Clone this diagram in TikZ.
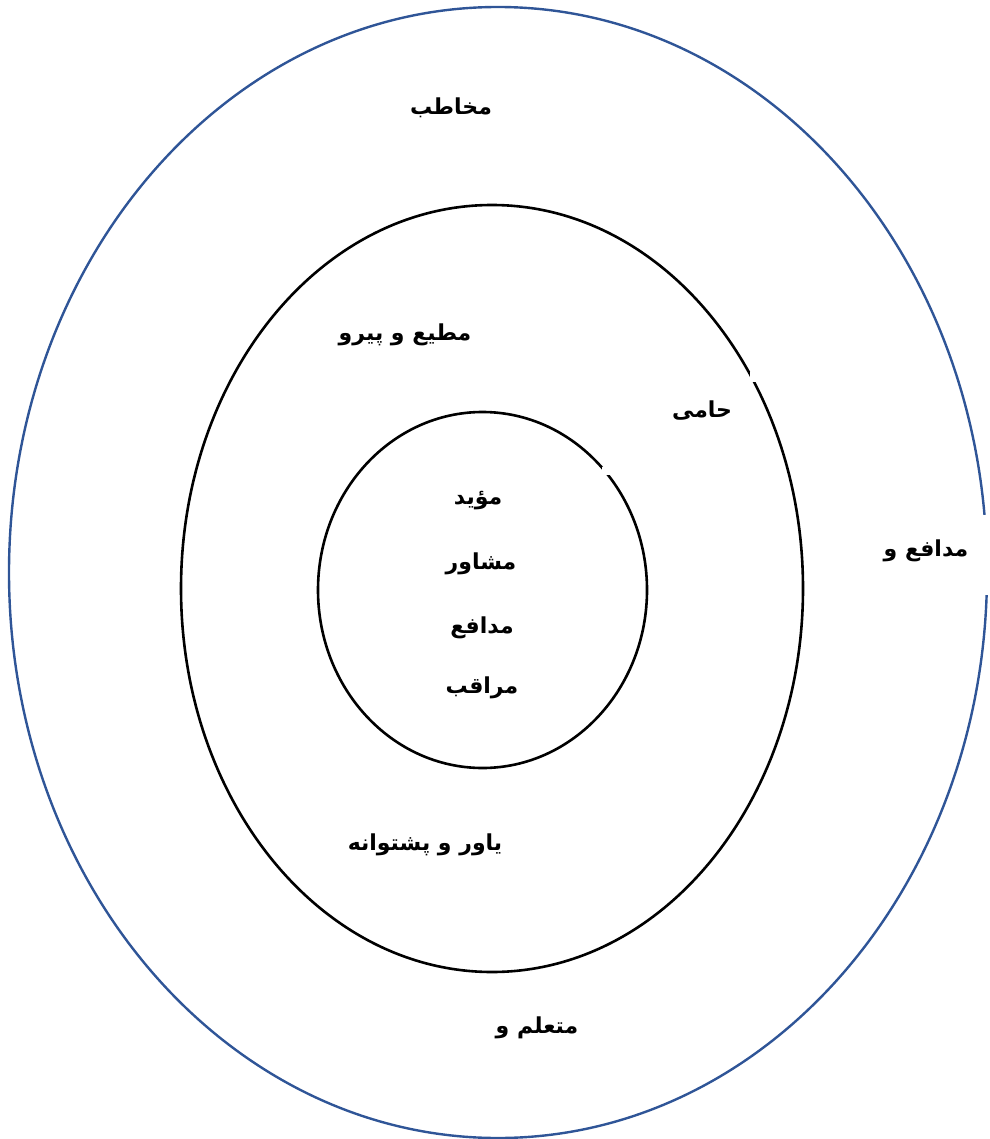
\documentclass[tikz,border=0pt]{standalone}
\usepackage{fontspec}
\TeXXeTstate=1
\newfontfamily\arabicfont[Script=Arabic]{DejaVu Sans}
\definecolor{outerblue}{HTML}{2F5597}
\begin{document}
\begin{tikzpicture}[x=1pt,y=-1pt,
  lbl/.style={font=\arabicfont\bfseries\fontsize{22}{26}\selectfont, inner sep=0pt},
  ring/.style={line width=2.6pt, draw=black},
  outerring/.style={line width=2.4pt, draw=outerblue}]
\useasboundingbox (0,0) rectangle (989,1139);
\clip (0,0) rectangle (989,1139);
% rings
\draw[outerring] (498,572.5) ellipse [x radius=489, y radius=565.5];
\draw[ring] (492,588.5) ellipse [x radius=311, y radius=383.5];
\draw[ring] (482.5,590) ellipse [x radius=164.5, y radius=178];
% small breaks in the rings
\fill[white] (975,515) rectangle (995,595);
\fill[white] (750,372) rectangle (760,382);
\fill[white] (602,467) rectangle (610,475);
% labels
\node[lbl] (mokhatab) at (451,108) {\beginR مخاطب\endR};
\node[lbl] (moti) at (405,335) {\beginR مطیع و پیرو\endR};
\node[lbl] (hami) at (702,411) {\beginR حامی\endR};
\node[lbl] (moayyed) at (478,501) {\beginR مؤید\endR};
\node[lbl] (moshaver) at (481,564) {\beginR مشاور\endR};
\node[lbl] (modafe) at (482,628) {\beginR مدافع\endR};
\node[lbl] (moraqeb) at (482,688) {\beginR مراقب\endR};
\node[lbl] (modafew) at (926,551) {\beginR مدافع و\endR};
\node[lbl] (yavar) at (425,845) {\beginR یاور و پشتوانه\endR};
\node[lbl] (motaallem) at (537,1028) {\beginR متعلم و\endR};
\end{tikzpicture}
\end{document}
